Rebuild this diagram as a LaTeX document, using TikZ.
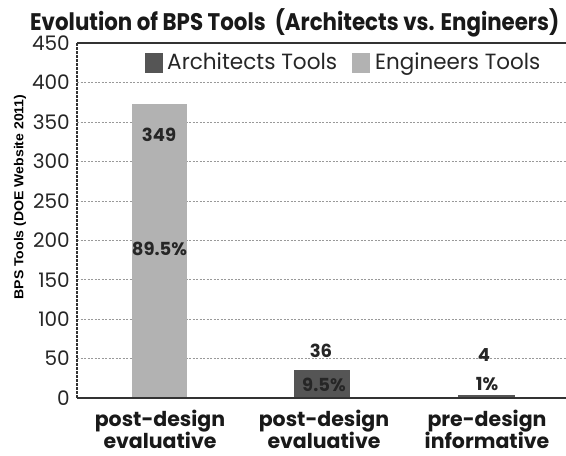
\documentclass[tikz,border=0pt]{standalone}
\usepackage{fontspec}
\setmainfont{Poppins}
\newfontfamily\arialfont{Liberation Sans}
\definecolor{lightbar}{HTML}{B2B2B2}
\definecolor{darkbar}{HTML}{555555}
\definecolor{axisc}{HTML}{333333}
\definecolor{gridc}{HTML}{999999}
\begin{document}
\begin{tikzpicture}[x=1pt,y=-1pt,
  tick/.style={font=\fontsize{20}{20}\selectfont, anchor=east, inner sep=0pt, text=black!85},
  catlbl/.style={font=\bfseries\fontsize{20.5}{20.5}\selectfont, anchor=base, inner sep=0pt, text=black!90},
  barlbl/.style={font=\bfseries\fontsize{18}{18}\selectfont, inner sep=0pt, text=black!85},
  gridln/.style={draw=gridc, dash pattern=on 2pt off 1.5pt, line width=0.6pt},
  legtext/.style={font=\fontsize{22}{22}\selectfont, anchor=base west, inner sep=0pt, text=black!85}]
\useasboundingbox (0,0) rectangle (566,456);
\fill[white] (0,0) rectangle (566,456);
% grid lines
\foreach \k in {1,...,8}{
  \draw[gridln] (77,{398-\k*39.44}) -- (566,{398-\k*39.44});
}
% bars
\fill[lightbar] (132,104) rectangle (187,398);
\fill[darkbar] (294,370) rectangle (350,398);
\fill[darkbar] (458,395) rectangle (515,398);
% frame
\draw[axisc, line width=1.4pt] (77,43) -- (566,43);
\draw[axisc, line width=1.2pt, dash pattern=on 3pt off 1pt] (77,43) -- (77,398);
\draw[axisc, line width=1.8pt] (77,398) -- (566,398);
% ticks
\foreach \v [count=\i from 0] in {0,50,100,150,200,250,300,350,400,450}{
  \node[tick] (t\i) at (70,{398-\i*39.44}) {\v};
}
% y label
\node[rotate=90, inner sep=0pt, font=\arialfont\bfseries\fontsize{13}{13}\selectfont] (ylab) at (20,197) {\resizebox{205pt}{\height}{BPS Tools (DOE Website 2011)}};
% title
\node[anchor=base west, inner sep=0pt, font=\bfseries\fontsize{24}{24}\selectfont, text=black!90] (title) at (30,30) {\resizebox{529pt}{\height}{Evolution of BPS Tools\ \ (Architects vs. Engineers)}};
% legend
\fill[darkbar] (145,53) rectangle (163,73);
\node[legtext] (leg1) at (167,69) {\resizebox{170pt}{\height}{Architects Tools}};
\fill[lightbar] (352,53) rectangle (370,73);
\node[legtext] (leg2) at (375,69) {\resizebox{165pt}{\height}{Engineers Tools}};
% bar labels
\node[barlbl] (v1) at (159,134.5) {349};
\node[barlbl] (p1) at (159.5,249) {89.5\%};
\node[barlbl] (v2) at (321,351) {36};
\node[barlbl] (p2) at (324,385) {9.5\%};
\node[barlbl] (v3) at (484,355) {4};
\node[barlbl] (p3) at (487,384) {1\%};
% category labels
\node[catlbl] (c1a) at (160,426) {post-design};
\node[catlbl] (c1b) at (160,448) {evaluative};
\node[catlbl] (c2a) at (324,426) {post-design};
\node[catlbl] (c2b) at (324,448) {evaluative};
\node[catlbl] (c3a) at (487,426) {pre-design};
\node[catlbl] (c3b) at (487,448) {informative};
\end{tikzpicture}
\end{document}
